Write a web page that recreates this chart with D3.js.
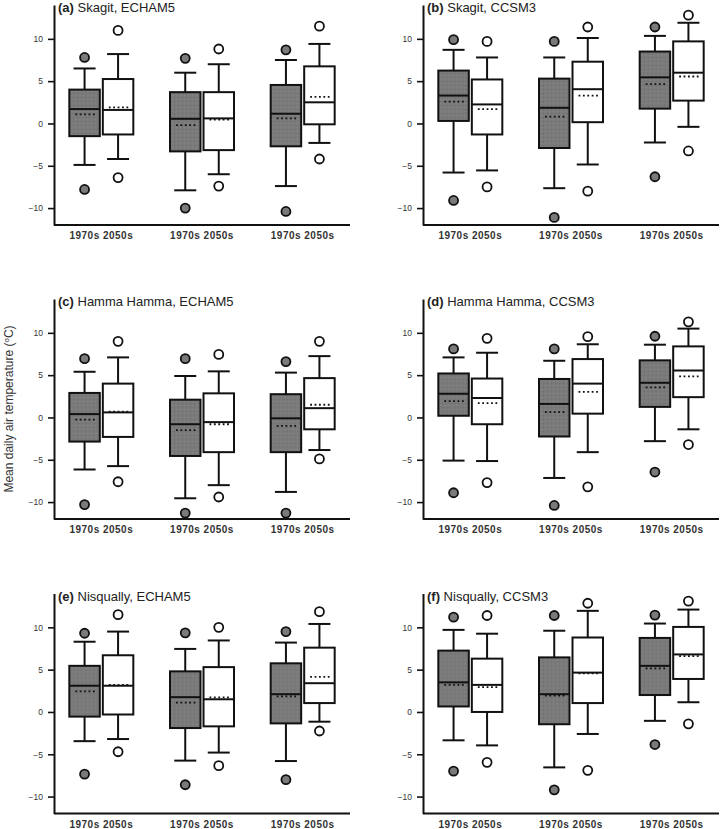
<!DOCTYPE html>
<html>
<head>
<meta charset="utf-8">
<script src="https://cdn.jsdelivr.net/npm/d3@7"></script>
<style>
  html, body { margin: 0; padding: 0; background: #fff; }
  svg { display: block; font-family: "Liberation Sans", Arial, sans-serif; }
</style>
</head>
<body>
<svg id="chart" width="720" height="829"></svg>
<script>
// Panel labels and titles
const PANEL_TAGS = ["(a)", "(b)", "(c)", "(d)", "(e)", "(f)"];
const PANEL_TITLES = [
  "Skagit, ECHAM5", "Skagit, CCSM3",
  "Hamma Hamma, ECHAM5", "Hamma Hamma, CCSM3",
  "Nisqually, ECHAM5", "Nisqually, CCSM3",
];
const GROUPS = ["g1", "g2", "g3"];
const PERIODS = ["1970s", "2050s"];
const Y_TICKS = [-10, -5, 0, 5, 10];

// one row per box: [outlierLow, whiskerLow, q1, median, q3, whiskerHigh, outlierHigh, mean]
// order: g1 1970s, g1 2050s, g2 1970s, g2 2050s, g3 1970s, g3 2050s
const skagitEchams = [
  [-7.8, -4.9, -1.5, 1.7, 4.0, 6.5, 7.8, 1.07],
  [-6.4, -4.2, -1.3, 1.6, 5.25, 8.2, 11.0, 1.9],
  [-10.0, -7.9, -3.3, 0.55, 3.7, 6.0, 7.7, -0.2],
  [-7.4, -6.0, -3.15, 0.6, 3.7, 7.0, 8.8, 0.47],
  [-10.4, -7.4, -2.7, 1.15, 4.55, 7.5, 8.7, 0.6],
  [-4.2, -2.3, -0.1, 2.5, 6.75, 9.4, 11.5, 3.15],
];
const skagitCcsm = [
  [-9.1, -5.8, 0.3, 3.3, 6.25, 8.7, 9.9, 2.57],
  [-7.5, -5.55, -1.3, 2.25, 5.2, 7.8, 9.7, 1.7],
  [-11.1, -7.65, -2.9, 1.85, 5.3, 7.8, 9.7, 0.8],
  [-8.0, -4.85, 0.15, 4.05, 7.3, 10.1, 11.4, 3.3],
  [-6.3, -2.25, 1.75, 5.45, 8.5, 10.35, 11.4, 4.65],
  [-3.25, -0.4, 2.7, 6.0, 9.7, 11.9, 12.8, 5.55],
];
const hammaEchams = [
  [-10.3, -6.15, -2.85, 0.4, 2.9, 5.4, 6.95, -0.25],
  [-7.6, -5.75, -2.3, 0.6, 4.0, 7.1, 9.0, 0.7],
  [-11.3, -9.55, -4.55, -0.8, 2.1, 4.9, 6.95, -1.5],
  [-9.4, -8.0, -4.1, -0.55, 2.85, 5.45, 7.45, -0.8],
  [-11.3, -8.8, -4.1, -0.1, 2.75, 5.3, 6.6, -1.0],
  [-4.9, -3.85, -1.4, 1.1, 4.65, 7.25, 9.0, 1.5],
];
const hammaCcsm = [
  [-8.9, -5.1, 0.2, 2.8, 5.2, 7.1, 8.1, 1.93],
  [-7.7, -5.15, -0.8, 2.3, 4.6, 7.65, 9.35, 1.7],
  [-10.4, -7.15, -2.25, 1.6, 4.55, 6.7, 8.1, 0.63],
  [-8.2, -4.1, 0.45, 4.0, 6.9, 8.65, 9.55, 3.03],
  [-6.45, -2.8, 1.25, 4.1, 6.75, 8.6, 9.6, 3.55],
  [-3.2, -1.4, 2.4, 5.55, 8.4, 10.5, 11.3, 4.85],
];
const nisquallyEchams = [
  [-7.35, -3.45, -0.55, 3.1, 5.45, 8.3, 9.3, 2.43],
  [-4.7, -3.2, -0.3, 3.1, 6.7, 9.5, 11.5, 3.2],
  [-8.6, -5.75, -1.9, 1.75, 4.8, 7.45, 9.35, 1.1],
  [-6.35, -4.8, -1.7, 1.5, 5.3, 8.45, 10.0, 1.73],
  [-8.0, -5.8, -1.35, 2.1, 5.75, 8.2, 9.5, 1.84],
  [-2.25, -1.15, 1.05, 3.4, 7.6, 10.4, 11.85, 4.15],
];
const nisquallyCcsm = [
  [-7.0, -3.35, 0.65, 3.5, 7.25, 9.7, 11.2, 3.2],
  [-5.95, -3.95, 0.0, 3.2, 6.3, 9.25, 11.4, 2.94],
  [-9.2, -6.55, -1.45, 2.1, 6.45, 9.6, 11.4, 1.92],
  [-6.9, -2.6, 1.05, 4.65, 8.8, 11.95, 12.85, 4.55],
  [-3.85, -1.05, 2.0, 5.45, 8.75, 10.45, 11.45, 5.15],
  [-1.4, 1.15, 3.9, 6.8, 10.05, 12.1, 13.1, 6.6],
];
const PANEL_DATA = [skagitEchams, skagitCcsm, hammaEchams, hammaCcsm, nisquallyEchams, nisquallyCcsm];

const FILL = { "1970s": "#7a7a7a", "2050s": "#ffffff" };
const INK = "#111";

const svg = d3.select("#chart");

// Layout
const plotW = 296, plotH = 220;
const colX = [54, 423];
const rowY = [5, 299, 593.5];

const y = d3.scaleLinear().domain([-12, 14]).range([plotH, 0]);
const xGroup = d3.scalePoint().domain(GROUPS).range([0, plotW]).padding(0.47);
const xPeriod = d3.scaleBand().domain(PERIODS).range([-32, 32]).paddingInner(0.09);
const bw = xPeriod.bandwidth();

// Stipple pattern for the grey boxes
const defs = svg.append("defs");
const pat = defs.append("pattern")
  .attr("id", "stipple")
  .attr("width", 4).attr("height", 4)
  .attr("patternUnits", "userSpaceOnUse");
pat.append("rect").attr("width", 4).attr("height", 4).attr("fill", "#7a7a7a");
pat.append("rect").attr("x", 0).attr("y", 0).attr("width", 1).attr("height", 1).attr("fill", "#6c6c6c");
pat.append("rect").attr("x", 2).attr("y", 2).attr("width", 1).attr("height", 1).attr("fill", "#888");

PANEL_DATA.forEach((rows, pi) => {
  const g = svg.append("g")
    .attr("transform", `translate(${colX[pi % 2]},${rowY[Math.floor(pi / 2)]})`);

  // y axis
  const yAxis = d3.axisLeft(y).tickValues(Y_TICKS).tickSize(6).tickPadding(5).tickSizeOuter(0);
  const ya = g.append("g").call(yAxis);
  ya.select(".domain").attr("stroke", INK).attr("stroke-width", 2);
  ya.selectAll(".tick line").attr("stroke", INK).attr("stroke-width", 1.6);
  ya.selectAll(".tick text")
    .attr("font-size", 8.5).attr("fill", "#333")
    .attr("font-family", "Liberation Sans, Arial, sans-serif");

  // x axis baseline
  g.append("line")
    .attr("x1", 0).attr("x2", plotW)
    .attr("y1", plotH).attr("y2", plotH)
    .attr("stroke", INK).attr("stroke-width", 2);

  // title
  const t = g.append("text").attr("x", 4).attr("y", 7)
    .attr("font-size", 13).attr("fill", "#222");
  t.append("tspan").attr("font-weight", "bold").text(PANEL_TAGS[pi]);
  t.append("tspan").text(" " + PANEL_TITLES[pi]);

  // boxes
  const boxes = rows.map((r, i) => ({
    group: GROUPS[Math.floor(i / 2)],
    period: PERIODS[i % 2],
    outLo: r[0], whLo: r[1], q1: r[2], med: r[3], q3: r[4], whHi: r[5], outHi: r[6], mean: r[7],
  }));

  const bx = g.selectAll(".box").data(boxes).join("g")
    .attr("class", "box")
    .attr("transform", d => `translate(${xGroup(d.group) + xPeriod(d.period)},0)`);

  const cx = bw / 2;
  const capW = 22;

  // whiskers
  bx.append("line")
    .attr("x1", cx).attr("x2", cx)
    .attr("y1", d => y(d.whHi)).attr("y2", d => y(d.q3))
    .attr("stroke", INK).attr("stroke-width", 2);
  bx.append("line")
    .attr("x1", cx).attr("x2", cx)
    .attr("y1", d => y(d.q1)).attr("y2", d => y(d.whLo))
    .attr("stroke", INK).attr("stroke-width", 2);
  bx.append("line")
    .attr("x1", cx - capW / 2).attr("x2", cx + capW / 2)
    .attr("y1", d => y(d.whHi)).attr("y2", d => y(d.whHi))
    .attr("stroke", INK).attr("stroke-width", 2);
  bx.append("line")
    .attr("x1", cx - capW / 2).attr("x2", cx + capW / 2)
    .attr("y1", d => y(d.whLo)).attr("y2", d => y(d.whLo))
    .attr("stroke", INK).attr("stroke-width", 2);

  // box body
  bx.append("rect")
    .attr("x", 0).attr("width", bw)
    .attr("y", d => y(d.q3))
    .attr("height", d => y(d.q1) - y(d.q3))
    .attr("fill", d => d.period === "1970s" ? "url(#stipple)" : FILL[d.period])
    .attr("stroke", INK).attr("stroke-width", 2);

  // median
  bx.append("line")
    .attr("x1", 0).attr("x2", bw)
    .attr("y1", d => y(d.med)).attr("y2", d => y(d.med))
    .attr("stroke", INK).attr("stroke-width", 2);

  // mean (dotted)
  bx.append("line")
    .attr("x1", 6).attr("x2", bw - 4)
    .attr("y1", d => y(d.mean)).attr("y2", d => y(d.mean))
    .attr("stroke", INK).attr("stroke-width", 1.8)
    .attr("stroke-dasharray", "1.8,2.6");

  // outliers
  ["outLo", "outHi"].forEach(k => {
    bx.append("circle")
      .attr("cx", cx).attr("cy", d => y(d[k])).attr("r", 4.5)
      .attr("fill", d => FILL[d.period])
      .attr("stroke", INK).attr("stroke-width", 1.8);
  });

  // period labels
  bx.append("text")
    .attr("x", cx).attr("y", plotH + 14)
    .attr("text-anchor", "middle")
    .attr("font-size", 10).attr("font-weight", "bold").attr("fill", "#333")
    .attr("letter-spacing", 0.5)
    .text(d => d.period);
});

// shared y-axis title
const yl = svg.append("text")
  .attr("transform", "translate(13,409) rotate(-90)")
  .attr("text-anchor", "middle")
  .attr("font-size", 12).attr("fill", "#333");
yl.append("tspan").text("Mean daily air temperature (");
yl.append("tspan").attr("baseline-shift", "super").attr("font-size", 8).text("o");
yl.append("tspan").text("C)");
</script>
</body>
</html>
